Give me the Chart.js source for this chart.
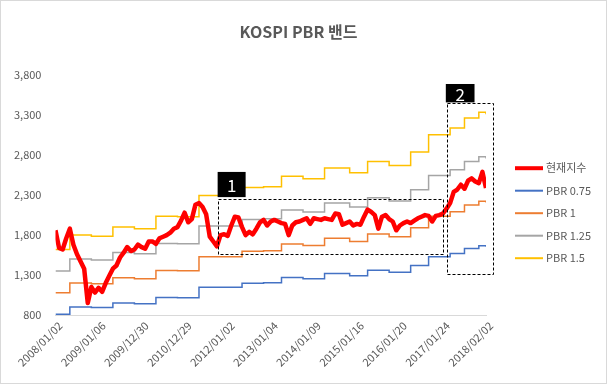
<!DOCTYPE html>
<html>
<head>
<meta charset="utf-8">
<script src="https://cdn.jsdelivr.net/npm/chart.js@4.4.0/dist/chart.umd.min.js"></script>
<style>
  html, body { margin: 0; padding: 0; background: #fff; }
</style>
</head>
<body>
<canvas id="pbr" width="607" height="384"></canvas>
<script>
// x axis: month index since 2008/01, labels every 12 months
const tickLabels = ['2008/01/02', '2009/01/06', '2009/12/30', '2010/12/29', '2012/01/02', '2013/01/04',
  '2014/01/09', '2015/01/16', '2016/01/20', '2017/01/24', '2018/02/02'];

// KOSPI, one value per month (idx 0 = 2008/01)
const kospi = [
  1860, 1640, 1620, 1760, 1880, 1680, 1560, 1470, 1380, 950, 1150, 1080,
  1140, 1090, 1200, 1290, 1380, 1420, 1520, 1580, 1650, 1600, 1620, 1680,
  1650, 1630, 1720, 1720, 1690, 1760, 1780, 1800, 1830, 1880, 1900, 1980,
  2080, 1960, 2000, 2180, 2200, 2150, 2060, 1780, 1720, 1660, 1800, 1810,
  1790, 1920, 2030, 2020, 1900, 1800, 1840, 1810, 1880, 1960, 1990, 1920,
  1970, 1990, 1970, 1950, 1940, 1800, 1920, 1960, 1970, 1990, 2010, 1940,
  2010, 2000, 1990, 2010, 2000, 1990, 2070, 2060, 1930, 1950, 1970, 1920,
  1940, 1930, 2030, 2120, 2090, 2050, 1880, 2030, 2050, 2000, 1970, 1860,
  1920, 1950, 1970, 1950, 1980, 2010, 2030, 2050, 2040, 1970, 2040, 2050,
  2070, 2130, 2200, 2340, 2370, 2430, 2380, 2480, 2510, 2470, 2450, 2590,
  2390
];

// PBR band levels, held until the next change point
const bandIdx = [0, 4, 10, 16, 22, 28, 34, 40, 52, 58, 63, 69, 75, 82, 87, 93, 99, 104, 110, 114, 118, 120];
const pbr075 = [810, 900, 893, 950, 940, 1018, 1015, 1148, 1198, 1203, 1268, 1253, 1320, 1290, 1360, 1335, 1420, 1528, 1570, 1633, 1668, 1655];
const pbr100 = [1080, 1200, 1190, 1267, 1253, 1357, 1353, 1530, 1597, 1603, 1690, 1670, 1760, 1720, 1813, 1780, 1893, 2037, 2093, 2177, 2223, 2207];
const pbr125 = [1350, 1500, 1488, 1583, 1567, 1696, 1692, 1913, 1996, 2004, 2113, 2088, 2200, 2150, 2267, 2225, 2367, 2546, 2617, 2721, 2779, 2758];
const pbr150 = [1620, 1800, 1785, 1900, 1880, 2035, 2030, 2295, 2395, 2405, 2535, 2505, 2640, 2580, 2720, 2670, 2840, 3055, 3140, 3265, 3335, 3310];

// dashed boxes [x0, x1, yLow, yHigh] and their tags [text, x0, x1, yLow, yHigh], in data units
const noteBoxes = [[45.2, 108, 1560, 2250], [109.1, 122, 1310, 3450]];
const noteTags = [['1', 45.2, 53, 2275, 2590], ['2', 108.8, 116.8, 3460, 3690]];

const FONT = "'Noto Sans CJK KR', 'Noto Sans', sans-serif";
const GREY_TEXT = '#595959';

function band(values) {
  return values.map((v, i) => ({ x: bandIdx[i], y: v }));
}

const frame = {
  id: 'frame',
  beforeDraw(chart) {
    const ctx = chart.ctx;
    ctx.save();
    ctx.fillStyle = '#fff';
    ctx.fillRect(0, 0, chart.width, chart.height);
    ctx.strokeStyle = '#d9d9d9';
    ctx.lineWidth = 1;
    ctx.strokeRect(0.5, 0.5, chart.width - 1, chart.height - 1);
    ctx.restore();
  }
};

const notes = {
  id: 'notes',
  afterDatasetsDraw(chart) {
    const ctx = chart.ctx;
    const xs = chart.scales.x, ys = chart.scales.y;
    ctx.save();
    ctx.strokeStyle = '#000';
    ctx.lineWidth = 1;
    ctx.setLineDash([3, 2]);
    noteBoxes.forEach(b => {
      const l = Math.round(xs.getPixelForValue(b[0])) + 0.5;
      const r = Math.round(xs.getPixelForValue(b[1])) + 0.5;
      const t = Math.round(ys.getPixelForValue(b[3])) + 0.5;
      const btm = Math.round(ys.getPixelForValue(b[2])) + 0.5;
      ctx.strokeRect(l, t, r - l, btm - t);
    });
    ctx.setLineDash([]);
    noteTags.forEach(t => {
      const l = xs.getPixelForValue(t[1]);
      const r = xs.getPixelForValue(t[2]);
      const top = ys.getPixelForValue(t[4]);
      const btm = ys.getPixelForValue(t[3]);
      ctx.fillStyle = '#000';
      ctx.fillRect(l, top, r - l, btm - top);
      ctx.fillStyle = '#fff';
      ctx.font = '17px ' + FONT;
      ctx.textAlign = 'center';
      ctx.textBaseline = 'middle';
      ctx.fillText(t[0], (l + r) / 2, (top + btm) / 2 + 1);
    });
    ctx.restore();
  }
};

const sideLegend = {
  id: 'sideLegend',
  afterDraw(chart) {
    const ctx = chart.ctx;
    const x0 = chart.chartArea.right + 29;
    let y = chart.chartArea.top + 93;
    ctx.save();
    ctx.font = '11px ' + FONT;
    ctx.textAlign = 'left';
    ctx.textBaseline = 'middle';
    chart.data.datasets.forEach(ds => {
      ctx.strokeStyle = ds.borderColor;
      ctx.lineWidth = ds.label === '현재지수' ? 4 : 2;
      ctx.beginPath();
      ctx.moveTo(x0, y);
      ctx.lineTo(x0 + 28, y);
      ctx.stroke();
      ctx.fillStyle = GREY_TEXT;
      ctx.fillText(ds.label, x0 + 31, y);
      y += 22.5;
    });
    ctx.restore();
  }
};

new Chart(document.getElementById('pbr'), {
  type: 'line',
  data: {
    datasets: [
      { label: '현재지수', data: kospi.map((v, i) => ({ x: i, y: v })), borderColor: '#ff0000', borderWidth: 4.5, borderJoinStyle: 'round' },
      { label: 'PBR 0.75', data: band(pbr075), borderColor: '#4472c4', borderWidth: 1.5, stepped: true },
      { label: 'PBR 1', data: band(pbr100), borderColor: '#ed7d31', borderWidth: 1.5, stepped: true },
      { label: 'PBR 1.25', data: band(pbr125), borderColor: '#a5a5a5', borderWidth: 1.5, stepped: true },
      { label: 'PBR 1.5', data: band(pbr150), borderColor: '#ffc000', borderWidth: 1.5, stepped: true }
    ]
  },
  options: {
    responsive: false,
    animation: false,
    elements: { point: { radius: 0 }, line: { tension: 0 } },
    layout: { padding: { top: 12, left: 0, right: 10, bottom: 11 } },
    plugins: {
      legend: { display: false },
      tooltip: { enabled: false },
      title: {
        display: true,
        text: 'KOSPI PBR 밴드',
        color: GREY_TEXT,
        font: { family: FONT, size: 16, weight: 'bold' },
        padding: { top: 10, bottom: 34 }
      }
    },
    scales: {
      x: {
        type: 'linear',
        min: 0,
        max: 120,
        grid: { display: false, drawTicks: false },
        border: { display: true, color: '#d9d9d9' },
        ticks: {
          stepSize: 12,
          autoSkip: false,
          minRotation: 45,
          maxRotation: 45,
          labelOffset: 5,
          padding: 4,
          color: GREY_TEXT,
          font: { family: FONT, size: 11 },
          callback: v => tickLabels[v / 12]
        }
      },
      y: {
        min: 800,
        max: 3800,
        grid: { display: false, drawTicks: false },
        border: { display: false },
        ticks: {
          stepSize: 500,
          padding: 14,
          color: GREY_TEXT,
          font: { family: FONT, size: 11 }
        }
      },
      // empty right axis keeps room for the legend
      legendSpace: {
        position: 'right',
        grid: { display: false, drawTicks: false },
        border: { display: false },
        ticks: { display: false },
        afterFit: s => { s.width = 111; }
      }
    }
  },
  plugins: [frame, notes, sideLegend]
});
</script>
</body>
</html>
